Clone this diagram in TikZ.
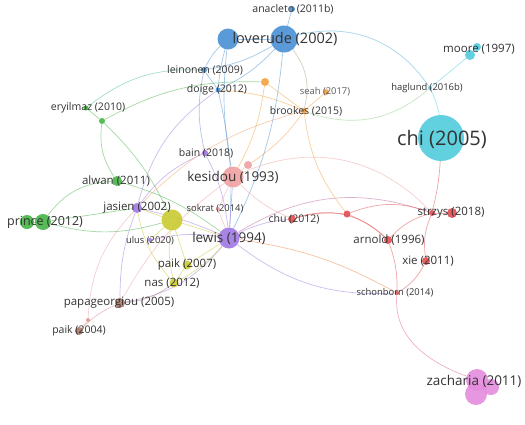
\documentclass[tikz,border=0pt]{standalone}
\usepackage{fontspec}
\setmainfont{Open Sans}
\usetikzlibrary{backgrounds}
\definecolor{cblue}{HTML}{4A90D4}
\definecolor{ccyan}{HTML}{52CCDC}
\definecolor{cgreen}{HTML}{45B545}
\definecolor{cpurp}{HTML}{9F78E2}
\definecolor{cyell}{HTML}{CACA30}
\definecolor{cpink}{HTML}{F0A0A0}
\definecolor{cred}{HTML}{E04E50}
\definecolor{cbrown}{HTML}{A87868}
\definecolor{corange}{HTML}{F5A040}
\definecolor{cmag}{HTML}{E48CDC}
\definecolor{ctext}{HTML}{333333}
\tikzset{
  nd/.style={circle,inner sep=0pt,draw=none,fill opacity=0.9},
  lb/.style={text=ctext,font=\fontsize{10.5}{11}\selectfont,inner sep=0pt},
  lbs/.style={text=ctext,font=\fontsize{9.4}{10}\selectfont,inner sep=0pt},
  lbm/.style={text=ctext,font=\fontsize{11.5}{12}\selectfont,inner sep=0pt},
  lbl/.style={text=ctext,font=\fontsize{13.5}{14}\selectfont,inner sep=0pt},
  ed/.style={line width=0.7pt,draw opacity=0.5},
}
\begin{document}
\begin{tikzpicture}[x=1pt,y=-1pt]
\useasboundingbox (0,0) rectangle (525,424);
% ---- nodes ----
% blue
\node[nd,fill=cblue,minimum size=6pt] (anacleto) at (292,9) {};
\node[nd,fill=cblue,minimum size=21pt] (lovA) at (228,39) {};
\node[nd,fill=cblue,minimum size=27pt] (lovB) at (284,39) {};
\node[nd,fill=cblue,minimum size=6pt] (leinonen) at (204,70) {};
\node[nd,fill=cblue,minimum size=5pt] (doige) at (218,90) {};
% orange
\node[nd,fill=corange,minimum size=8pt] (orA) at (265,82) {};
\node[nd,fill=corange,minimum size=6pt] (seah) at (326,92) {};
\node[nd,fill=corange,minimum size=6pt] (brookes) at (304,111) {};
% cyan
\node[nd,fill=ccyan,minimum size=10pt] (mooreA) at (470,55) {};
\node[nd,fill=ccyan,minimum size=8pt] (mooreB) at (477,47) {};
\node[nd,fill=ccyan,minimum size=4pt] (haglund) at (430,88) {};
\node[nd,fill=ccyan,minimum size=46pt] (chi) at (441,138) {};
% green
\node[nd,fill=cgreen,minimum size=5pt] (eryilmaz) at (86,108) {};
\node[nd,fill=cgreen,minimum size=6pt] (grA) at (102,121) {};
\node[nd,fill=cgreen,minimum size=10pt] (alwan) at (117,181) {};
\node[nd,fill=cgreen,minimum size=14pt] (princeA) at (27,222) {};
\node[nd,fill=cgreen,minimum size=16pt] (princeB) at (43,222) {};
% purple
\node[nd,fill=cpurp,minimum size=6pt] (bain) at (205,153) {};
\node[nd,fill=cpurp,minimum size=10pt] (jasien) at (137,208) {};
\node[nd,fill=cpurp,minimum size=21pt] (lewis) at (229,238) {};
\node[nd,fill=cpurp,minimum size=4pt] (ulus) at (150,240) {};
% yellow
\node[nd,fill=cyell,minimum size=21pt] (yel) at (172,220) {};
\node[nd,fill=cyell,minimum size=9pt] (paikA) at (187,265) {};
\node[nd,fill=cyell,minimum size=9pt] (nas) at (174,283) {};
% pink
\node[nd,fill=cpink,minimum size=21pt] (kesidou) at (233,177) {};
\node[nd,fill=cpink,minimum size=8pt] (pkA) at (248,165) {};
\node[nd,fill=cpink,minimum size=4pt] (sokrat) at (218,209) {};
% red
\node[nd,fill=cred,minimum size=8pt] (chu) at (292,219) {};
\node[nd,fill=cred,minimum size=7pt] (rdA) at (347,214) {};
\node[nd,fill=cred,minimum size=6pt] (strzysA) at (432,213) {};
\node[nd,fill=cred,minimum size=10pt] (strzysB) at (452,213) {};
\node[nd,fill=cred,minimum size=8pt] (arnold) at (388,240) {};
\node[nd,fill=cred,minimum size=8pt] (xie) at (426,261) {};
\node[nd,fill=cred,minimum size=4pt] (schonborn) at (397,293) {};
% brown
\node[nd,fill=cbrown,minimum size=10pt] (papa) at (120,303) {};
\node[nd,fill=cbrown,minimum size=8pt] (paikB) at (79,331) {};
\node[nd,fill=cpink!80!cbrown,minimum size=4pt] (brA) at (88,320) {};
% magenta
\node[nd,fill=cmag,minimum size=22pt] (zachA) at (477,380) {};
\node[nd,fill=cmag,minimum size=16pt] (zachB) at (491,387) {};
\node[nd,fill=cmag,minimum size=22pt] (zachC) at (476,394) {};
% ---- edges ----
\begin{scope}[on background layer]
\fill[white] (0,0) rectangle (525,424);
% blue
\draw[ed,cblue] (lovA) -- (lovB);
\draw[ed,cblue] (anacleto) -- (lovB);
\draw[ed,cblue] (leinonen) to[bend left=10] (lovA);
\draw[ed,cblue] (doige) to[bend left=5] (lovA);
\draw[ed,cblue] (leinonen) to[bend right=10] (lovB);
\draw[ed,cblue] (doige) to[bend right=10] (lovB);
\draw[ed,cblue] (leinonen) -- (doige);
\draw[ed,cblue] (lovB) to[bend left=10] (lewis);
\draw[ed,cblue] (doige) to[bend left=8] (lewis);
\draw[ed,cblue] (lovA) to[bend right=8] (kesidou);
\draw[ed,cblue!60!cpurp] (leinonen) to[bend right=12] (bain);
\draw[ed,cblue!50!ccyan] (lovB) to[bend left=35] (haglund);
\draw[ed,cblue!40!corange] (lovB) to[bend left=25] (brookes);
% cyan
\draw[ed,ccyan] (haglund) -- (mooreA);
\draw[ed,ccyan] (haglund) to[bend left=8] (chi);
\draw[ed,cyell!50!ccyan] (brookes) to[bend right=30] (haglund);
% green
\draw[ed,cgreen] (eryilmaz) -- (grA);
\draw[ed,cgreen] (grA) to[bend left=15] (orA);
\draw[ed,cgreen!50!ccyan] (eryilmaz) to[bend left=20] (leinonen);
\draw[ed,cgreen] (grA) to[bend right=20] (alwan);
\draw[ed,cgreen] (grA) to[bend left=10] (yel);
\draw[ed,cgreen] (alwan) to[bend right=25] (princeB);
\draw[ed,cgreen] (princeB) -- (jasien);
\draw[ed,cgreen] (princeB) to[bend right=15] (yel);
\draw[ed,cgreen] (alwan) to[bend left=10] (lewis);
\draw[ed,cgreen] (princeA) -- (princeB);
% purple
\draw[ed,cpurp] (jasien) to[bend left=5] (lewis);
\draw[ed,cpurp] (jasien) to[bend left=15] (bain);
\draw[ed,cpurp] (bain) to[bend left=10] (lewis);
\draw[ed,cpurp] (jasien) to[bend left=20] (doige);
\draw[ed,cpurp] (lewis) -- (kesidou);
\draw[ed,cpurp] (lewis) to[bend left=10] (chu);
\draw[ed,cpurp!50!cred] (lewis) to[bend left=25] (strzysA);
\draw[ed,cpurp] (lewis) to[bend right=20] (schonborn);
\draw[ed,corange!70!cred] (lewis) to[bend left=10] (schonborn);
\draw[ed,cpurp] (lewis) to[bend left=20] (papa);
\draw[ed,cpurp] (jasien) to[bend right=10] (papa);
\draw[ed,cpurp] (lewis) to[bend right=10] (ulus);
% yellow
\draw[ed,cyell] (yel) -- (jasien);
\draw[ed,cyell] (yel) -- (lewis);
\draw[ed,cyell] (yel) -- (paikA);
\draw[ed,cyell] (yel) to[bend right=10] (nas);
\draw[ed,cyell] (yel) -- (ulus);
\draw[ed,cyell] (paikA) -- (lewis);
\draw[ed,cyell] (nas) to[bend right=10] (lewis);
\draw[ed,cyell] (paikA) -- (nas);
\draw[ed,cyell] (jasien) to[bend right=15] (nas);
% pink
\draw[ed,cpink] (kesidou) -- (pkA);
\draw[ed,cpink] (kesidou) -- (sokrat);
\draw[ed,cpink] (sokrat) -- (lewis);
\draw[ed,cpink] (brA) to[bend left=20] (jasien);
\draw[ed,cpink] (brA) -- (paikB);
\draw[ed,cpink] (papa) to[bend left=12] (kesidou);
\draw[ed,cpink] (kesidou) to[bend left=35] (strzysA);
\draw[ed,cpink] (kesidou) to[bend right=10] (chu);
% orange
\draw[ed,corange] (orA) -- (brookes);
\draw[ed,corange] (seah) -- (brookes);
\draw[ed,corange] (doige) to[bend left=10] (brookes);
\draw[ed,corange] (brookes) to[bend left=10] (pkA);
\draw[ed,corange] (brookes) to[bend right=15] (rdA);
\draw[ed,corange!60!cpink] (brookes) to[bend right=15] (jasien);
\draw[ed,corange] (orA) to[bend left=10] (kesidou);
% red
\draw[ed,cred] (chu) to[bend left=10] (rdA);
\draw[ed,cred] (rdA) to[bend left=10] (arnold);
\draw[ed,cred] (arnold) to[bend left=15] (strzysA);
\draw[ed,cred] (strzysA) -- (strzysB);
\draw[ed,cred] (strzysA) to[bend right=15] (xie);
\draw[ed,cred] (xie) to[bend left=15] (schonborn);
\draw[ed,cred] (arnold) to[bend left=10] (schonborn);
\draw[ed,cred] (chi) to[bend left=5] (strzysA);
\draw[ed,cred] (rdA) to[bend left=20] (strzysA);
\draw[ed,cred] (chu) to[bend left=30] (arnold);
\draw[ed,cred!60!cmag] (schonborn) to[out=265,in=160] (zachA);
% brown
\draw[ed,cbrown] (papa) to[bend right=15] (nas);
\draw[ed,cbrown!50!cpink] (paikB) to[bend left=10] (papa);
\end{scope}
% ---- labels ----
\node[lb] (l-anacleto) at (293,9) {anacleto (2011b)};
\node[lbl,font=\fontsize{14.5}{15}\selectfont] (l-lov) at (285,39) {loverude (2002)};
\node[lb] (l-leinonen) at (205,70) {leinonen (2009)};
\node[lb] (l-doige) at (217,90) {doige (2012)};
\node[lbs,text=ctext!80] (l-seah) at (325,92) {seah (2017)};
\node[lb] (l-brookes) at (306,111) {brookes (2015)};
\node[lbm] (l-moore) at (479,49) {moore (1997)};
\node[lbs] (l-haglund) at (427,88) {haglund (2016b)};
\node[lbl,font=\fontsize{20}{21}\selectfont] (l-chi) at (442,139) {chi (2005)};
\node[lb] (l-eryilmaz) at (88,108) {eryilmaz (2010)};
\node[lbm] (l-alwan) at (116,181) {alwan (2011)};
\node[lbl,font=\fontsize{12.5}{13}\selectfont] (l-prince) at (45,222) {prince (2012)};
\node[lb] (l-bain) at (206,153) {bain (2018)};
\node[lbm] (l-jasien) at (137,208) {jasien (2002)};
\node[lbl] (l-lewis) at (229,238) {lewis (1994)};
\node[lbs] (l-ulus) at (150,241) {ulus (2020)};
\node[lbm] (l-paikA) at (187,265) {paik (2007)};
\node[lbm] (l-nas) at (172,283) {nas (2012)};
\node[lbl] (l-kesidou) at (233,177) {kesidou (1993)};
\node[lbs] (l-sokrat) at (215,209) {sokrat (2014)};
\node[lb] (l-chu) at (294,219) {chu (2012)};
\node[lbm] (l-strzys) at (451,213) {strzys (2018)};
\node[lbm] (l-arnold) at (389,240) {arnold (1996)};
\node[lbm] (l-xie) at (428,261) {xie (2011)};
\node[lbs] (l-schonborn) at (395,293) {schonborn (2014)};
\node[lbm] (l-papa) at (119,303) {papageorgiou (2005)};
\node[lb] (l-paikB) at (79,331) {paik (2004)};
\node[lbl] (l-zach) at (474,381) {zacharia (2011)};
\end{tikzpicture}
\end{document}
